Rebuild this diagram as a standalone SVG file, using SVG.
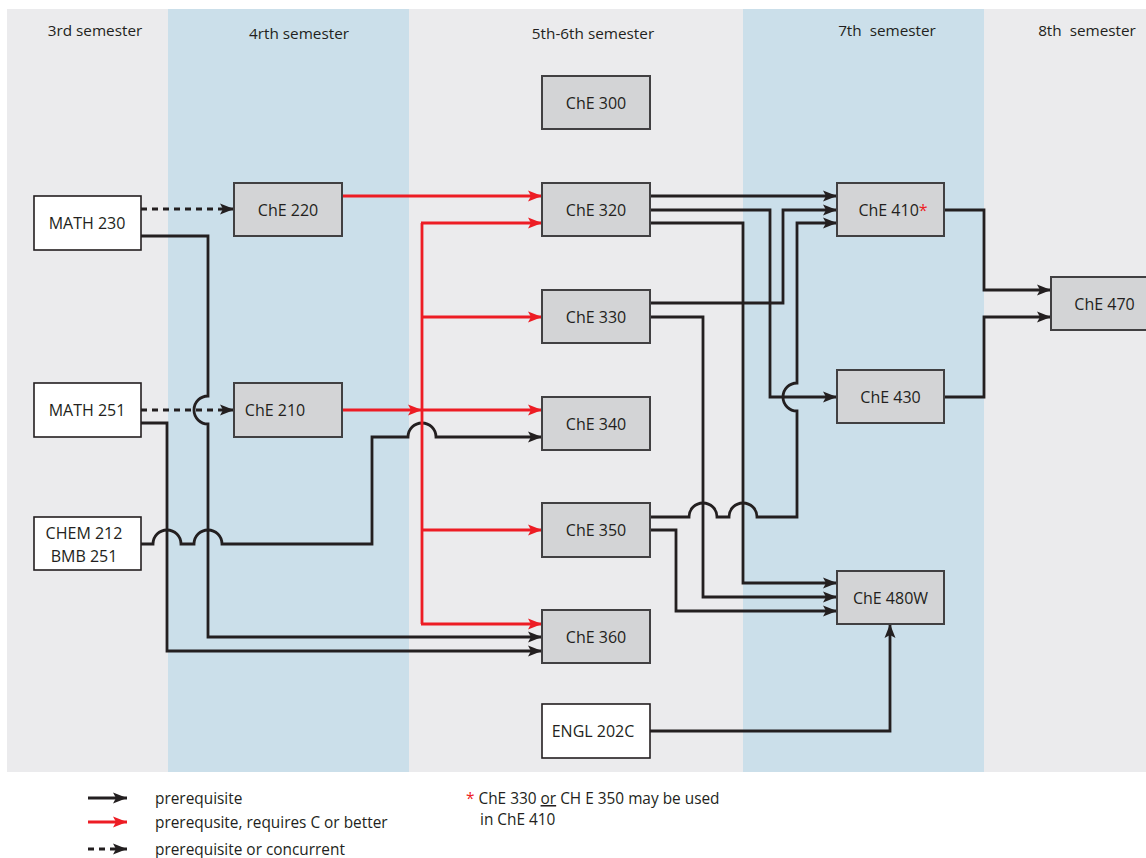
<svg xmlns="http://www.w3.org/2000/svg" width="1146" height="858" viewBox="0 0 1146 858">
<style>
.bg{fill:#EBEBED}
.blue{fill:#CBDFEA}
.hdr{font-family:"Open Sans","Liberation Sans",sans-serif;font-size:15.3px;fill:#231F20;text-anchor:middle}
.g rect{fill:#D3D4D6;stroke:#414042;stroke-width:2}
.w rect{fill:#FFFFFF;stroke:#231F20;stroke-width:1.6}
.lbl{font-family:"Open Sans","Liberation Sans",sans-serif;font-size:16px;fill:#231F20;text-anchor:middle}
.ka{fill:none;stroke:#231F20;stroke-width:2.8;marker-end:url(#ak)}
.ra{fill:none;stroke:#ED1C24;stroke-width:2.8;marker-end:url(#ar)}
.r{fill:none;stroke:#ED1C24;stroke-width:2.8}
.da{fill:none;stroke:#231F20;stroke-width:3;stroke-dasharray:6 5;marker-end:url(#ak)}
.leg{font-family:"Open Sans","Liberation Sans",sans-serif;font-size:15.4px;fill:#231F20}
.star{fill:#ED1C24}
</style>
<defs>
<marker id="ak" markerUnits="userSpaceOnUse" markerWidth="16" markerHeight="13" refX="14" refY="5.5" orient="auto" overflow="visible">
<path d="M0,0 L14,5.5 L0,11 L3,5.5 Z" fill="#231F20"/>
</marker>
<marker id="ar" markerUnits="userSpaceOnUse" markerWidth="16" markerHeight="13" refX="14" refY="5.5" orient="auto" overflow="visible">
<path d="M0,0 L14,5.5 L0,11 L3,5.5 Z" fill="#ED1C24"/>
</marker>
</defs>
<rect width="1146" height="858" fill="#FFFFFF"/>
<g id="columns">
<rect class="bg" x="7" y="9" width="1139" height="763"/>
<rect class="blue" x="168" y="9" width="241" height="763"/>
<rect class="blue" x="743" y="9" width="241" height="763"/>
<text class="hdr" x="95" y="36">3rd semester</text>
<text class="hdr" x="299" y="39">4rth semester</text>
<text class="hdr" x="593" y="39">5th-6th semester</text>
<text class="hdr" x="887" y="36" xml:space="preserve">7th  semester</text>
<text class="hdr" x="1087" y="36" xml:space="preserve">8th  semester</text>
</g>
<g id="connectors">
<path class="da" d="M141,209 H234"/>
<path class="da" d="M141,410 H234"/>
<path class="ka" d="M141,236 H208 V396 A14,14 0 0 0 208,424 V637 H542"/>
<path class="ka" d="M141,423 H167 V651 H542"/>
<path class="ka" d="M141,544 H153 A14,14 0 0 1 181,544 H194 A14,14 0 0 1 222,544 H372 V437 H408 A14,14 0 0 1 436,437 H542"/>
<path class="ra" d="M342,196 H542"/>
<path class="ra" d="M342,410 H422"/>
<path class="r" d="M422,223 V624"/>
<path class="ra" d="M421,223 H542"/>
<path class="ra" d="M422,317 H542"/>
<path class="ra" d="M422,410 H542"/>
<path class="ra" d="M422,530 H542"/>
<path class="ra" d="M421,624 H542"/>
<path class="ka" d="M650,196 H837"/>
<path class="ka" d="M650,210 H770 V397 H837"/>
<path class="ka" d="M650,223 H743 V583 H837"/>
<path class="ka" d="M650,303 H783 V210 H837"/>
<path class="ka" d="M650,317 H703 V597 H837"/>
<path class="ka" d="M650,517 H689 A14,14 0 0 1 717,517 H729 A14,14 0 0 1 757,517 H797 V411 A14,14 0 0 1 797,383 V223 H837"/>
<path class="ka" d="M650,530 H676 V611 H837"/>
<path class="ka" d="M650,731 H890 V624"/>
<path class="ka" d="M944,210 H984 V290 H1051"/>
<path class="ka" d="M944,397 H984 V317 H1051"/>
</g>
<g id="MATH230" class="w"><rect x="34" y="196" width="107" height="54"/><text class="lbl" x="87" y="228.5">MATH 230</text></g>
<g id="MATH251" class="w"><rect x="34" y="383" width="107" height="54"/><text class="lbl" x="87" y="415.5">MATH 251</text></g>
<g id="CHEM212" class="w"><rect x="34" y="517" width="107" height="53"/><text class="lbl" x="84" y="539">CHEM 212</text><text class="lbl" x="84" y="562">BMB 251</text></g>
<g id="ChE220" class="g"><rect x="234" y="183" width="108" height="53"/><text class="lbl" x="288" y="215.5">ChE 220</text></g>
<g id="ChE210" class="g"><rect x="234" y="383" width="108" height="54"/><text class="lbl" x="275" y="416">ChE 210</text></g>
<g id="ChE300" class="g"><rect x="542" y="76" width="108" height="53"/><text class="lbl" x="596" y="108.5">ChE 300</text></g>
<g id="ChE320" class="g"><rect x="542" y="183" width="108" height="53"/><text class="lbl" x="596" y="215.5">ChE 320</text></g>
<g id="ChE330" class="g"><rect x="542" y="290" width="108" height="53"/><text class="lbl" x="596" y="322.5">ChE 330</text></g>
<g id="ChE340" class="g"><rect x="542" y="397" width="108" height="53"/><text class="lbl" x="596" y="429.5">ChE 340</text></g>
<g id="ChE350" class="g"><rect x="542" y="503" width="108" height="54"/><text class="lbl" x="596" y="536">ChE 350</text></g>
<g id="ChE360" class="g"><rect x="542" y="610" width="108" height="53"/><text class="lbl" x="596" y="642.5">ChE 360</text></g>
<g id="ENGL202C" class="w"><rect x="542" y="704" width="108" height="54"/><text class="lbl" x="593" y="736.5">ENGL 202C</text></g>
<g id="ChE410" class="g"><rect x="837" y="183" width="107" height="53"/><text class="lbl" x="893" y="215.5">ChE 410<tspan class="star">*</tspan></text></g>
<g id="ChE430" class="g"><rect x="837" y="370" width="107" height="53"/><text class="lbl" x="890.5" y="402.5">ChE 430</text></g>
<g id="ChE480W" class="g"><rect x="837" y="571" width="107" height="53"/><text class="lbl" x="890.5" y="603.5">ChE 480W</text></g>
<g id="ChE470" class="g"><rect x="1051" y="277" width="107" height="53"/><text class="lbl" x="1104.5" y="309.5">ChE 470</text></g>
<g id="legend">
<path class="ka" d="M88,798 H127"/>
<path class="ra" d="M88,822 H127"/>
<path class="da" d="M88,849 H127"/>
<text class="leg" x="155" y="804">prerequisite</text>
<text class="leg" x="155" y="828">prerequsite, requires C or better</text>
<text class="leg" x="155" y="855">prerequisite or concurrent</text>
<text class="leg" x="466" y="804"><tspan class="star">*</tspan> ChE 330 <tspan text-decoration="underline">or</tspan> CH E 350 may be used</text>
<text class="leg" x="480" y="825">in ChE 410</text>
</g>
</svg>
